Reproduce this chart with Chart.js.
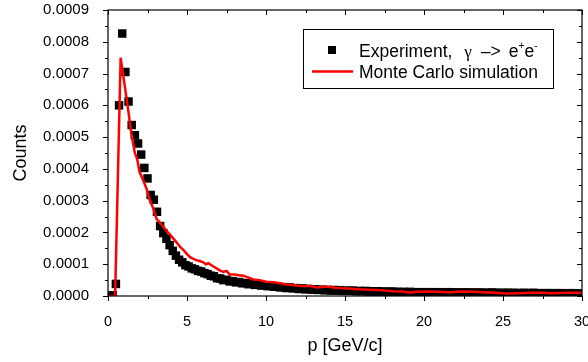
<!DOCTYPE html>
<html>
<head>
<meta charset="utf-8">
<script src="https://cdn.jsdelivr.net/npm/chart.js@4.4.1/dist/chart.umd.min.js"></script>
<style>
  html, body { margin: 0; padding: 0; background: #fff; }
  canvas { display: block; }
</style>
</head>
<body>
<canvas id="momentum" width="588" height="362"></canvas>
<script>
// experiment histogram: bins of 0.2 GeV/c starting at 0.1, counts in units of 1e-4
const binStart = 0.1;
const binWidth = 0.2;
const expCounts = [
  0.00, 0.02, 0.38, 6.00, 8.26, 7.05, 6.12, 5.38, 5.06, 4.80,
  4.45, 4.03, 3.70, 3.18, 3.03, 2.65, 2.20, 1.98, 1.80, 1.60,
  1.42, 1.27, 1.14, 1.06, 0.97, 0.93, 0.87, 0.84, 0.79, 0.77,
  0.72, 0.69, 0.64, 0.62, 0.56, 0.55, 0.50, 0.51, 0.46, 0.47,
  0.43, 0.44, 0.40, 0.41, 0.37, 0.39, 0.35, 0.36, 0.33, 0.34,
  0.31, 0.32, 0.29, 0.30, 0.27, 0.28, 0.25, 0.27, 0.24, 0.25,
  0.22, 0.24, 0.21, 0.22, 0.20, 0.21, 0.19, 0.20, 0.18, 0.19,
  0.17, 0.19, 0.17, 0.18, 0.16, 0.17, 0.16, 0.17, 0.15, 0.16,
  0.15, 0.16, 0.14, 0.15, 0.14, 0.15, 0.13, 0.14, 0.13, 0.14,
  0.13, 0.13, 0.12, 0.13, 0.12, 0.13, 0.12, 0.12, 0.11, 0.12,
  0.12, 0.11, 0.12, 0.11, 0.12, 0.11, 0.11, 0.12, 0.11, 0.11,
  0.11, 0.10, 0.11, 0.11, 0.10, 0.11, 0.10, 0.11, 0.10, 0.10,
  0.10, 0.11, 0.10, 0.10, 0.09, 0.10, 0.10, 0.09, 0.10, 0.09,
  0.09, 0.10, 0.09, 0.09, 0.10, 0.09, 0.09, 0.08, 0.09, 0.09,
  0.08, 0.09, 0.08, 0.09, 0.08, 0.08, 0.09, 0.08, 0.08, 0.08
];

// Monte Carlo curve (p in GeV/c, counts in units of 1e-4)
const mcP = [
  0, 0.45, 0.8, 1.07, 1.28, 1.48, 1.7, 1.85, 2.0, 2.22,
  2.43, 2.64, 2.87, 3.08, 3.3, 3.5, 3.7, 3.9, 4.1, 4.35,
  4.55, 4.77, 5.0, 5.2, 5.4, 5.6, 5.8, 6.03, 6.2, 6.35,
  6.6, 6.87, 7.1, 7.3, 7.5, 7.7, 8.0, 8.3, 8.56, 8.9,
  9.2, 9.6, 10.0, 10.5, 10.9, 11.3, 11.8, 12.4, 12.8, 13.2,
  13.8, 14.4, 14.9, 15.4, 15.9, 16.5, 17.0, 17.5, 18.0, 18.6,
  19.1, 19.6, 20.2, 20.8, 21.6, 22.3, 23.1, 23.8, 24.5, 25.2,
  26.0, 26.7, 27.4, 28.2, 29.0, 30.0
];
const mcCounts = [
  0, 0, 7.5, 6.58, 5.85, 5.1, 4.5, 4.3, 3.9, 3.65,
  3.39, 3.02, 2.75, 2.42, 2.3, 2.18, 2.05, 1.95, 1.83, 1.68,
  1.55, 1.45, 1.32, 1.22, 1.17, 1.13, 1.1, 1.06, 1.0, 1.03,
  0.95, 0.87, 0.8, 0.76, 0.79, 0.68, 0.68, 0.65, 0.64, 0.58,
  0.52, 0.5, 0.45, 0.43, 0.4, 0.36, 0.34, 0.31, 0.32, 0.27,
  0.3, 0.26, 0.24, 0.23, 0.21, 0.2, 0.19, 0.17, 0.15, 0.14,
  0.11, 0.13, 0.14, 0.13, 0.12, 0.14, 0.13, 0.12, 0.1, 0.08,
  0.09, 0.1, 0.1, 0.09, 0.1, 0.1
];
const countUnit = 1e-4;

const xTitle = 'p [GeV/c]';
const yTitle = 'Counts';
const legendExp = 'Experiment,';
const legendMc = 'Monte Carlo simulation';

const FONT = '"Liberation Sans", Arial, sans-serif';

let expPoints = expCounts.map((c, i) => ({ x: binStart + i * binWidth, y: c * countUnit }));
let mcPoints = mcP.map((p, i) => ({ x: p, y: mcCounts[i] * countUnit }));

// frame, minor/major ticks on all four sides, and the boxed legend
const framePlugin = {
  id: 'framePlugin',
  afterDraw(chart) {
    const ctx = chart.ctx;
    const a = chart.chartArea;
    const xs = chart.scales.x;
    const ys = chart.scales.y;
    ctx.save();
    ctx.strokeStyle = '#000';
    ctx.lineWidth = 1.2;
    ctx.strokeRect(a.left, a.top, a.right - a.left, a.bottom - a.top);

    ctx.lineWidth = 1;
    ctx.beginPath();
    for (let i = 0; i <= 12; i++) {
      let v = i * 2.5;
      let px = Math.round(xs.getPixelForValue(v)) + 0.5;
      let len = (i % 2 === 0) ? 5 : 3;
      ctx.moveTo(px, a.bottom); ctx.lineTo(px, a.bottom + len);
      ctx.moveTo(px, a.top); ctx.lineTo(px, a.top + len);
    }
    for (let i = 0; i <= 18; i++) {
      let v = i * 0.00005;
      let py = Math.round(ys.getPixelForValue(v)) + 0.5;
      let len = (i % 2 === 0) ? 5 : 3;
      ctx.moveTo(a.left, py); ctx.lineTo(a.left - len, py);
      ctx.moveTo(a.right, py); ctx.lineTo(a.right - len, py);
    }
    ctx.stroke();

    // legend
    ctx.fillStyle = '#fff';
    ctx.fillRect(303, 29, 250, 59);
    ctx.strokeStyle = '#000';
    ctx.lineWidth = 1;
    ctx.strokeRect(303.5, 29.5, 250, 59);

    ctx.fillStyle = '#000';
    ctx.fillRect(328, 46, 8, 8);
    ctx.strokeStyle = 'rgb(255,0,0)';
    ctx.lineWidth = 2.5;
    ctx.beginPath();
    ctx.moveTo(312, 71.5); ctx.lineTo(353, 71.5);
    ctx.stroke();

    ctx.fillStyle = '#000';
    ctx.textBaseline = 'alphabetic';
    ctx.textAlign = 'left';
    let base1 = 57;
    let x = 359;
    ctx.font = '17.5px ' + FONT;
    ctx.fillText(legendExp, x, base1);
    x += ctx.measureText(legendExp).width + 12;
    ctx.font = '17px "Liberation Serif", serif';
    ctx.fillText('\u03b3', x, base1);
    x += ctx.measureText('\u03b3').width + 9;
    ctx.font = '17.5px ' + FONT;
    ctx.fillText('\u2013>', x, base1);
    x += ctx.measureText('\u2013>').width + 8;
    ctx.fillText('e', x, base1);
    x += ctx.measureText('e').width;
    ctx.font = '10px ' + FONT;
    ctx.fillText('+', x, base1 - 8);
    x += ctx.measureText('+').width;
    ctx.font = '17.5px ' + FONT;
    ctx.fillText('e', x, base1);
    x += ctx.measureText('e').width;
    ctx.font = '10px ' + FONT;
    ctx.fillText('-', x, base1 - 8);

    ctx.font = '17.5px ' + FONT;
    ctx.fillText(legendMc, 359, 78);
    ctx.restore();
  }
};

new Chart(document.getElementById('momentum'), {
  type: 'scatter',
  data: {
    datasets: [
      {
        label: legendMc,
        data: mcPoints,
        showLine: true,
        borderColor: 'rgb(255,0,0)',
        borderWidth: 2.5,
        pointRadius: 0,
        tension: 0,
        order: 0
      },
      {
        label: legendExp,
        data: expPoints,
        showLine: false,
        pointStyle: 'rect',
        pointRadius: 6,
        pointBackgroundColor: '#000',
        pointBorderWidth: 0,
        order: 1
      }
    ]
  },
  options: {
    responsive: false,
    animation: false,
    devicePixelRatio: 1,
    layout: { padding: { top: 10, right: 6, left: 0, bottom: 0 } },
    plugins: {
      legend: { display: false },
      tooltip: { enabled: false }
    },
    scales: {
      x: {
        type: 'linear',
        min: 0,
        max: 30,
        grid: { display: false },
        border: { display: false },
        ticks: {
          stepSize: 5,
          padding: 9,
          color: '#000',
          maxRotation: 0,
          font: { family: FONT, size: 14.5 }
        },
        title: {
          display: true,
          text: xTitle,
          color: '#000',
          padding: { bottom: 5 },
          font: { family: FONT, size: 18 }
        },
        afterFit(scale) {
          scale.height = 66;
          scale.paddingLeft = 0;
          scale.paddingRight = 0;
        }
      },
      y: {
        type: 'linear',
        min: 0,
        max: 0.0009,
        grid: { display: false },
        border: { display: false },
        ticks: {
          stepSize: 0.0001,
          padding: 11,
          color: '#000',
          font: { family: FONT, size: 15 },
          callback: (v) => v.toFixed(4)
        },
        title: {
          display: true,
          text: yTitle,
          color: '#000',
          padding: { top: 10 },
          font: { family: FONT, size: 18 }
        },
        afterFit(scale) {
          scale.width = 108;
          scale.paddingTop = 0;
          scale.paddingBottom = 0;
        }
      }
    }
  },
  plugins: [framePlugin]
});
</script>
</body>
</html>
